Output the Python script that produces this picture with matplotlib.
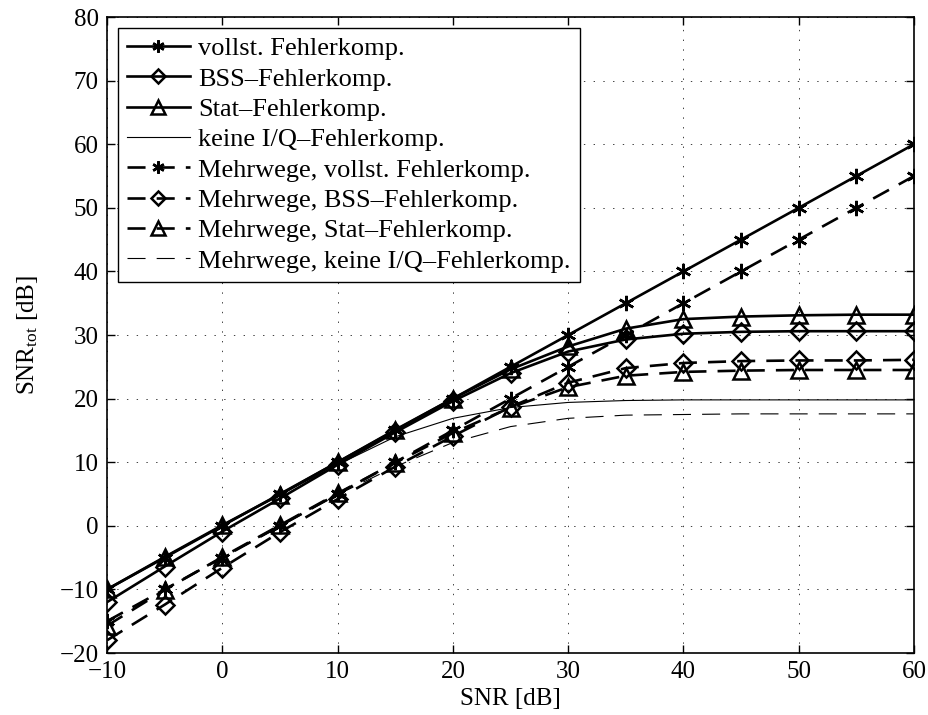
import matplotlib.pyplot as plt

plt.rcParams['font.family'] = ['Liberation Serif', 'DejaVu Serif']
plt.rcParams['mathtext.fontset'] = 'custom'
plt.rcParams['mathtext.rm'] = 'Liberation Serif'
plt.rcParams['mathtext.it'] = 'Liberation Serif:italic'
plt.rcParams['lines.scale_dashes'] = False

# SNR axis (dB)
snr = [-10, -5, 0, 5, 10, 15, 20, 25, 30, 35, 40, 45, 50, 55, 60]

# direct channel
full_comp = [-10, -5, 0, 5, 10, 15, 20, 25, 30, 35, 40, 45, 50, 55, 60]
bss_comp = [-12, -6.4, -0.9, 4.3, 9.6, 14.7, 19.6, 24.0, 27.4, 29.3, 30.2, 30.5, 30.6, 30.6, 30.6]
stat_comp = [-10, -4.9, 0.1, 4.9, 10.0, 15.1, 20.0, 24.6, 28.2, 31.0, 32.5, 32.9, 33.1, 33.2, 33.2]
no_comp = [-10, -5, 0, 4.9, 9.6, 14.0, 16.9, 18.6, 19.4, 19.7, 19.8, 19.8, 19.8, 19.8, 19.8]

# multipath channel
mp_full_comp = [-15, -10, -5, 0, 5, 10, 15, 20, 25, 30, 35, 40, 45, 50, 55]
mp_bss_comp = [-18.0, -12.4, -6.6, -1.0, 4.2, 9.3, 14.1, 18.7, 22.5, 24.8, 25.6, 25.9, 26.0, 26.0, 26.1]
mp_stat_comp = [-15.7, -10.1, -4.9, 0.1, 5.1, 9.9, 14.6, 18.6, 21.8, 23.6, 24.2, 24.4, 24.5, 24.5, 24.5]
mp_no_comp = [-15, -10, -5, -0.1, 4.9, 9.3, 13.1, 15.6, 16.9, 17.4, 17.5, 17.6, 17.6, 17.6, 17.6]

fig = plt.figure(figsize=(9.29, 7.15), dpi=100)
ax = fig.add_axes([0.1152, 0.0867, 0.8687, 0.8895])

thick = 1.9
thin = 0.8
dash = (0, (13, 8))
star = (6, 2, 0)
mk = dict(markerfacecolor='none', markeredgecolor='k', markeredgewidth=1.8)

ax.plot(snr, full_comp, '-', color='k', lw=thick, marker=star, markersize=11, label='vollst. Fehlerkomp.', **mk)
ax.plot(snr, bss_comp, '-', color='k', lw=thick, marker='D', markersize=9.5, label='BSS\u2013Fehlerkomp.', **mk)
ax.plot(snr, stat_comp, '-', color='k', lw=thick, marker='^', markersize=12, label='Stat\u2013Fehlerkomp.', **mk)
ax.plot(snr, no_comp, '-', color='k', lw=thin, label='keine I/Q\u2013Fehlerkomp.')
ax.plot(snr, mp_full_comp, linestyle=dash, color='k', lw=thick, marker=star, markersize=11, label='Mehrwege, vollst. Fehlerkomp.', **mk)
ax.plot(snr, mp_bss_comp, linestyle=dash, color='k', lw=thick, marker='D', markersize=9.5, label='Mehrwege, BSS\u2013Fehlerkomp.', **mk)
ax.plot(snr, mp_stat_comp, linestyle=dash, color='k', lw=thick, marker='^', markersize=12, label='Mehrwege, Stat\u2013Fehlerkomp.', **mk)
ax.plot(snr, mp_no_comp, linestyle=dash, color='k', lw=thin, label='Mehrwege, keine I/Q\u2013Fehlerkomp.')

ax.set_xlim(-10, 60)
ax.set_ylim(-20, 80)
ax.set_xticks(range(-10, 61, 10))
ax.set_yticks(range(-20, 81, 10))
ax.tick_params(direction='in', length=6, width=1, top=True, right=True, labelsize=18, pad=6)
for s in ax.spines.values():
    s.set_linewidth(1.2)
ax.grid(True, linestyle=(0, (1, 6)), color='0.25', linewidth=0.7)

ax.set_xlabel('SNR [dB]', fontsize=18, labelpad=3)
ax.set_ylabel(r'SNR$_{\mathrm{tot}}$ [dB]', fontsize=18, labelpad=14)

leg = ax.legend(loc='upper left', fontsize=19, numpoints=1, markerscale=0.8, handlelength=2.4,
                handletextpad=0.3, labelspacing=0.26, borderaxespad=0.4, borderpad=0.35,
                fancybox=False, edgecolor='k', framealpha=1)
leg.get_frame().set_linewidth(1.0)

fig.savefig('out.png', dpi=100)
